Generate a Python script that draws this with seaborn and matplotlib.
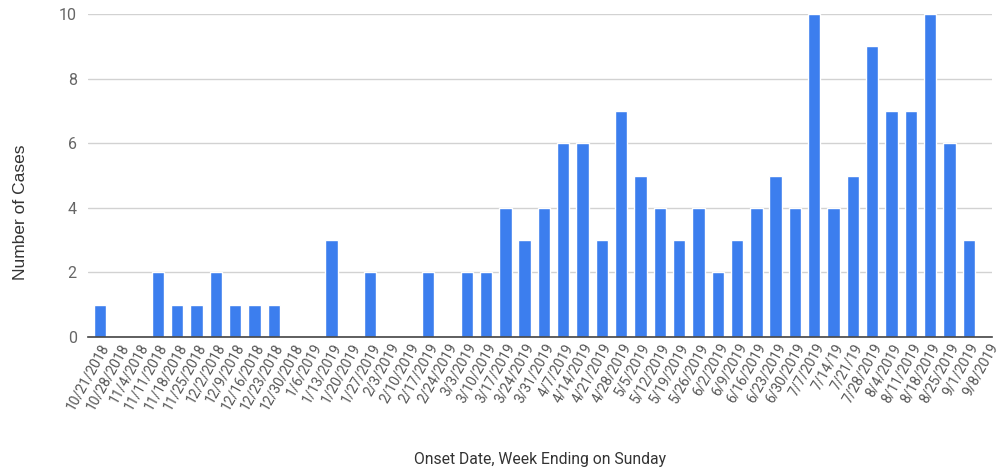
import matplotlib
matplotlib.use("Agg")
import matplotlib.pyplot as plt
import seaborn as sns
import pandas as pd

# Weekly onset counts, week ending on Sunday
weeks = [
    "10/21/2018", "10/28/2018", "11/4/2018", "11/11/2018", "11/18/2018",
    "11/25/2018", "12/2/2018", "12/9/2018", "12/16/2018", "12/23/2018",
    "12/30/2018", "1/6/2019", "1/13/2019", "1/20/2019", "1/27/2019",
    "2/3/2019", "2/10/2019", "2/17/2019", "2/24/2019", "3/3/2019",
    "3/10/2019", "3/17/2019", "3/24/2019", "3/31/2019", "4/7/2019",
    "4/14/2019", "4/21/2019", "4/28/2019", "5/5/2019", "5/12/2019",
    "5/19/2019", "5/26/2019", "6/2/2019", "6/9/2019", "6/16/2019",
    "6/23/2019", "6/30/2019", "7/7/2019", "7/14/19", "7/21/19",
    "7/28/2019", "8/4/2019", "8/11/2019", "8/18/2019", "8/25/2019",
    "9/1/2019", "9/8/2019",
]
cases = [
    1, 0, 0, 2, 1,
    1, 2, 1, 1, 1,
    0, 0, 3, 0, 2,
    0, 0, 2, 0, 2,
    2, 4, 3, 4, 6,
    6, 3, 7, 5, 4,
    3, 4, 2, 3, 4,
    5, 4, 10, 4, 5,
    9, 7, 7, 10, 6,
    3, 0,
]
y_ticks = [0, 2, 4, 6, 8, 10]

df = pd.DataFrame({"week": weeks, "cases": cases})

sns.set_theme(style="white")
plt.rcParams["font.family"] = ["Roboto", "DejaVu Sans"]

fig = plt.figure(figsize=(10.03, 4.68), dpi=100)
ax = fig.add_axes([0.0877, 0.28, 0.901, 0.69])

sns.barplot(data=df, x="week", y="cases", order=weeks, color="#3C7EEE",
            saturation=1, width=0.64, ax=ax, zorder=3)

ax.set_ylim(0, 10)
ax.set_xlim(-0.62, 46.19)
ax.set_yticks(y_ticks)
ax.set_yticklabels([str(t) for t in y_ticks])
ax.yaxis.grid(True, color="#d2d2d2", linewidth=1.0, zorder=0)
ax.xaxis.grid(False)
for side in ["top", "right", "left"]:
    ax.spines[side].set_visible(False)
ax.spines["bottom"].set_color("#444444")
ax.spines["bottom"].set_linewidth(1.2)
ax.spines["bottom"].set_zorder(4)
ax.tick_params(axis="both", length=0)
ax.tick_params(axis="y", labelsize=11.5, labelcolor="#666666", pad=8)
ax.tick_params(axis="x", labelsize=10, labelcolor="#555555", pad=3)
plt.setp(ax.get_xticklabels(), rotation=61, ha="right", rotation_mode="anchor")

ax.set_xlabel("Onset Date, Week Ending on Sunday", fontsize=11.3, color="#333333",
              labelpad=29)
ax.set_ylabel("Number of Cases", fontsize=12.5, color="#333333",
              family=["Liberation Sans", "DejaVu Sans"])
ax.yaxis.set_label_coords(-0.066, 0.387)

fig.savefig("out.png", dpi=100, facecolor="white")
